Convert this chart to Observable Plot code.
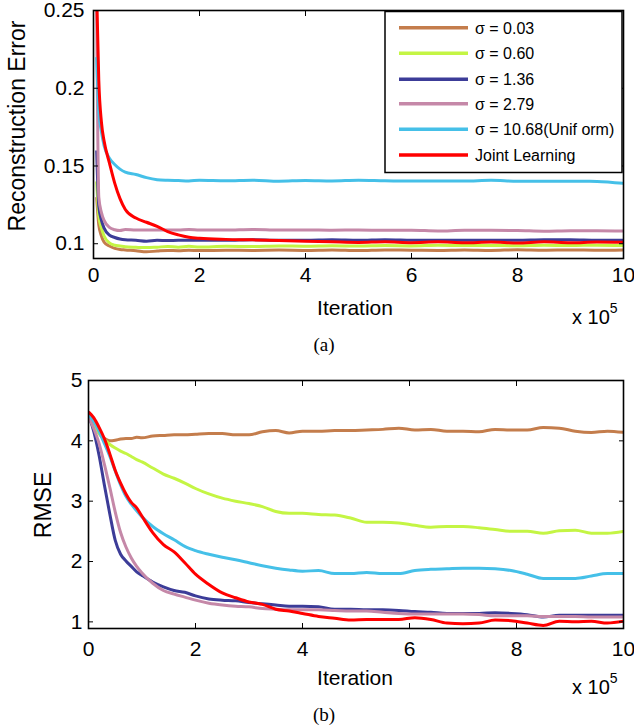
<!DOCTYPE html>
<html><head><meta charset="utf-8">
<script src="https://cdn.jsdelivr.net/npm/d3@7"></script>
<script src="https://cdn.jsdelivr.net/npm/@observablehq/plot@0.6"></script>
<style>
html,body{margin:0;padding:0;background:#fff;}
#wrap{position:relative;width:634px;height:725px;overflow:hidden;background:#fff;}
#wrap svg{position:absolute;left:0;}
</style></head><body><div id="wrap"></div>
<script>
// ---------- series metadata ----------
const seriesNames = ["σ = 0.03", "σ = 0.60", "σ = 1.36", "σ = 2.79", "σ = 10.68(Unif orm)", "Joint Learning"];
const seriesColors = ["#c47d4c", "#c4f544", "#3c3c98", "#c588a8", "#45c0e8", "#ff0000"];

// ---------- (a) Reconstruction Error ----------
const topIter = [0.06, 0.1, 0.15, 0.2, 0.3, 0.4, 0.5, 0.6, 0.8, 1.0, 1.2, 1.4, 1.6, 1.8, 2.0, 2.5, 3.0, 3.5, 4.0, 4.5, 5.0, 5.5, 6.0, 6.5, 7.0, 7.5, 8.0, 8.5, 9.0, 9.5, 10];
const topS003 = [0.13, 0.112, 0.105, 0.101, 0.0985, 0.097, 0.0963, 0.096, 0.0955, 0.0948, 0.0953, 0.0957, 0.0955, 0.0958, 0.0956, 0.0958, 0.0957, 0.0959, 0.0957, 0.096, 0.0956, 0.096, 0.0958, 0.0957, 0.096, 0.0957, 0.0961, 0.0958, 0.096, 0.0958, 0.096];
const topS060 = [0.14, 0.118, 0.11, 0.105, 0.1005, 0.099, 0.0985, 0.098, 0.0977, 0.0975, 0.0978, 0.0982, 0.0978, 0.0983, 0.0979, 0.0983, 0.0982, 0.0986, 0.0984, 0.0987, 0.0985, 0.0988, 0.0986, 0.099, 0.0988, 0.0989, 0.0987, 0.099, 0.0988, 0.0991, 0.0989];
const topS136 = [0.16, 0.124, 0.115, 0.11, 0.1055, 0.104, 0.103, 0.1025, 0.1022, 0.1016, 0.1022, 0.102, 0.1022, 0.1022, 0.1023, 0.1022, 0.1026, 0.1022, 0.1022, 0.1025, 0.1022, 0.1026, 0.1023, 0.1022, 0.1022, 0.1022, 0.1022, 0.1025, 0.1025, 0.1022, 0.1022];
const topS279 = [0.25, 0.13, 0.12, 0.115, 0.1105, 0.109, 0.1085, 0.1092, 0.1088, 0.1088, 0.1088, 0.1088, 0.1088, 0.1092, 0.1088, 0.1088, 0.1092, 0.1088, 0.1089, 0.1087, 0.1088, 0.1086, 0.1087, 0.1082, 0.1086, 0.1086, 0.1085, 0.1081, 0.1084, 0.1084, 0.1081];
const topS1068 = [0.22, 0.185, 0.172, 0.163, 0.155, 0.151, 0.148, 0.146, 0.1445, 0.1425, 0.1412, 0.1408, 0.1406, 0.1404, 0.1408, 0.1405, 0.1409, 0.1402, 0.1407, 0.1404, 0.1409, 0.1405, 0.1403, 0.1404, 0.1403, 0.1408, 0.1402, 0.1402, 0.1402, 0.1401, 0.1388];
const topJoint = [0.26, 0.205, 0.178, 0.166, 0.152, 0.139, 0.129, 0.122, 0.1165, 0.1138, 0.1112, 0.1078, 0.1057, 0.1042, 0.1035, 0.1028, 0.1025, 0.102, 0.1016, 0.1012, 0.1008, 0.1013, 0.1007, 0.1012, 0.1006, 0.1011, 0.1005, 0.1012, 0.1006, 0.1011, 0.1009];

// ---------- (b) RMSE ----------
const botIter = [0, 0.1, 0.2, 0.3, 0.4, 0.5, 0.6, 0.7, 0.8, 0.9, 1.0, 1.2, 1.4, 1.6, 1.8, 2.0, 2.25, 2.5, 2.75, 3.0, 3.25, 3.5, 3.75, 4.0, 4.3, 4.6, 4.9, 5.2, 5.5, 5.8, 6.1, 6.4, 6.7, 7.0, 7.3, 7.6, 7.9, 8.2, 8.5, 8.8, 9.1, 9.4, 9.7, 10];
const botS003 = [4.45, 4.3, 4.12, 4.04, 4.0, 4.01, 4.03, 4.04, 4.04, 4.06, 4.05, 4.08, 4.09, 4.10, 4.10, 4.11, 4.12, 4.12, 4.10, 4.10, 4.15, 4.17, 4.13, 4.16, 4.16, 4.17, 4.17, 4.18, 4.19, 4.21, 4.18, 4.19, 4.16, 4.16, 4.15, 4.19, 4.18, 4.18, 4.22, 4.21, 4.16, 4.14, 4.16, 4.14];
const botS060 = [4.45, 4.28, 4.12, 4.02, 3.94, 3.88, 3.83, 3.79, 3.74, 3.69, 3.65, 3.55, 3.45, 3.38, 3.30, 3.21, 3.12, 3.05, 3.0, 2.96, 2.91, 2.83, 2.80, 2.80, 2.78, 2.77, 2.72, 2.65, 2.65, 2.64, 2.60, 2.57, 2.58, 2.58, 2.56, 2.53, 2.50, 2.50, 2.47, 2.51, 2.52, 2.47, 2.47, 2.50];
const botS136 = [4.43, 4.15, 3.75, 3.25, 2.78, 2.35, 2.12, 2.01, 1.92, 1.83, 1.77, 1.66, 1.58, 1.52, 1.49, 1.43, 1.38, 1.36, 1.35, 1.32, 1.30, 1.28, 1.26, 1.26, 1.25, 1.21, 1.21, 1.20, 1.20, 1.19, 1.17, 1.16, 1.14, 1.14, 1.14, 1.15, 1.14, 1.12, 1.08, 1.11, 1.11, 1.11, 1.11, 1.11];
const botS279 = [4.40, 4.2, 3.95, 3.6, 3.22, 2.82, 2.48, 2.24, 2.06, 1.92, 1.81, 1.64, 1.52, 1.46, 1.41, 1.36, 1.31, 1.28, 1.26, 1.25, 1.22, 1.21, 1.20, 1.20, 1.20, 1.19, 1.18, 1.18, 1.16, 1.14, 1.13, 1.13, 1.13, 1.13, 1.12, 1.10, 1.10, 1.10, 1.09, 1.09, 1.09, 1.08, 1.08, 1.08];
const botS1068 = [4.43, 4.32, 4.15, 3.95, 3.74, 3.50, 3.27, 3.08, 2.95, 2.84, 2.74, 2.58, 2.46, 2.36, 2.25, 2.18, 2.12, 2.07, 2.03, 1.98, 1.93, 1.89, 1.86, 1.84, 1.85, 1.80, 1.80, 1.82, 1.80, 1.80, 1.85, 1.87, 1.88, 1.89, 1.89, 1.88, 1.85, 1.79, 1.72, 1.72, 1.72, 1.76, 1.80, 1.80];
const botJoint = [4.48, 4.38, 4.22, 4.03, 3.78, 3.51, 3.30, 3.12, 2.98, 2.89, 2.75, 2.48, 2.28, 2.16, 1.98, 1.79, 1.62, 1.48, 1.40, 1.33, 1.29, 1.21, 1.18, 1.14, 1.09, 1.06, 1.03, 1.04, 1.04, 1.04, 1.07, 1.04, 0.98, 0.97, 0.98, 1.03, 1.02, 0.98, 0.94, 1.01, 1.00, 1.01, 0.98, 1.01];

// ---------- ticks ----------
const xTicks = [0, 2, 4, 6, 8, 10];
const topYTicks = [0.1, 0.15, 0.2, 0.25];
const botYTicks = [1, 2, 3, 4, 5];

function toRows(iter, list) {
  const rows = [];
  list.forEach((vals, s) => vals.forEach((v, i) => rows.push({series: s, iter: iter[i], value: v})));
  return rows;
}
const topRows = toRows(topIter, [topS003, topS060, topS136, topS279, topS1068, topJoint]);
const botRows = toRows(botIter, [botS003, botS060, botS136, botS279, botS1068, botJoint]);

const FONT = '"Liberation Sans", Arial, Helvetica, sans-serif';
const plainFmt = d => String(d);

function makeChart(rows, yDomain, yTicks, cfg) {
  const lines = seriesNames.map((n, s) => Plot.line(rows.filter(r => r.series === s), {
    x: "iter", y: "value", stroke: seriesColors[s], strokeWidth: 3, clip: true,
    strokeLinejoin: "round", strokeLinecap: "butt", curve: "monotone-x"
  }));
  return Plot.plot({
    width: 634, height: cfg.height,
    marginLeft: cfg.left, marginRight: cfg.right, marginTop: cfg.top, marginBottom: cfg.bottom,
    x: {domain: [0, 10]},
    y: {domain: yDomain},
    style: {fontFamily: FONT, fontSize: "21px", color: "black", background: "transparent", overflow: "visible"},
    marks: [
      ...lines,
      Plot.frame({stroke: "black", strokeWidth: 1.6}),
      Plot.axisX({ticks: xTicks, anchor: "bottom", tickSize: -5, tickFormat: () => "", label: null, strokeWidth: 1}),
      Plot.axisX({ticks: xTicks, anchor: "top", tickSize: -5, tickFormat: () => "", label: null, strokeWidth: 1}),
      Plot.axisY({ticks: yTicks, anchor: "left", tickSize: -5, tickFormat: () => "", label: null, strokeWidth: 1}),
      Plot.axisY({ticks: yTicks, anchor: "right", tickSize: -5, tickFormat: () => "", label: null, strokeWidth: 1}),
      Plot.axisX({ticks: xTicks, anchor: "bottom", tickSize: 0, tickPadding: cfg.xPad, label: null, tickFormat: plainFmt}),
      Plot.axisY({ticks: yTicks, anchor: "left", tickSize: 0, tickPadding: cfg.yPad, label: null, tickFormat: plainFmt})
    ]
  });
}

const wrap = document.getElementById("wrap");
const topChart = makeChart(topRows, [0.0905, 0.25], topYTicks, {height: 290, left: 93, right: 11, top: 10, bottom: 32, xPad: 9, yPad: 9});
topChart.style.top = "0px";
wrap.appendChild(topChart);
const botChart = makeChart(botRows, [0.89, 5], botYTicks, {height: 290, left: 88, right: 11, top: 10, bottom: 32, xPad: 13, yPad: 6});
botChart.style.top = "370px";
wrap.appendChild(botChart);

// ---------- overlay: labels and legend ----------
const ov = d3.select(wrap).append("svg")
  .attr("width", 634).attr("height", 725)
  .style("top", "0px").style("pointer-events", "none")
  .attr("font-family", FONT);

function ylabel(text, x, y) {
  ov.append("text").attr("transform", `translate(${x},${y}) rotate(-90)`)
    .attr("text-anchor", "middle").attr("font-size", 23).text(text);
}
ylabel("Reconstruction Error", 25, 126);
ylabel("RMSE", 51, 505);

function xlabels(dy, tag) {
  ov.append("text").attr("x", 355).attr("y", 315 + dy).attr("text-anchor", "middle").attr("font-size", 21).text("Iteration");
  const t = ov.append("text").attr("x", 572).attr("y", 324 + dy).attr("font-size", 20);
  t.append("tspan").text("x 10");
  t.append("tspan").attr("font-size", 14).attr("dy", -11).text("5");
  ov.append("text").attr("x", 324).attr("y", 351 + dy).attr("text-anchor", "middle")
    .attr("font-family", '"Liberation Serif", "Times New Roman", serif').attr("font-size", 19).text(tag);
}
xlabels(0, "(a)");
xlabels(370, "(b)");

// legend
const lg = ov.append("g");
lg.append("rect").attr("x", 385).attr("y", 11.5).attr("width", 237).attr("height", 161)
  .attr("fill", "white").attr("stroke", "black").attr("stroke-width", 1.5);
const rowY = [27.7, 53.3, 79.3, 103.7, 129.3, 155];
seriesNames.forEach((n, i) => {
  lg.append("line").attr("x1", 399).attr("x2", 468).attr("y1", rowY[i]).attr("y2", rowY[i])
    .attr("stroke", seriesColors[i]).attr("stroke-width", 3.5);
  lg.append("text").attr("x", 475).attr("y", rowY[i] + 6).attr("font-size", 16).text(n);
});
</script></body></html>
